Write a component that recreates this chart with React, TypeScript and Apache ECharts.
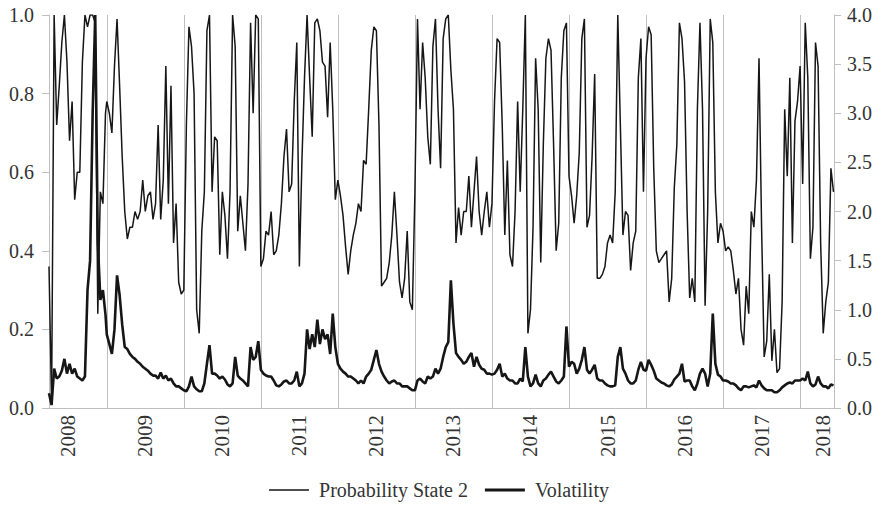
import React, { useEffect, useRef } from "react";
import * as echarts from "echarts";

const STEP = 1 / 30;
const X_MIN = 2008.25;
const X_MAX = 2018.44;

const YEAR_LINES = [2009, 2010, 2011, 2012, 2013, 2014, 2015, 2016, 2017, 2018];
const YEAR_LABEL_POS = [2008.5, 2009.5, 2010.5, 2011.5, 2012.5, 2013.5, 2014.5, 2015.5, 2016.5, 2017.5, 2018.3];

const prob2008 = [0.36, 0.01, 1.0, 0.72, 0.82, 0.93, 1.0, 0.88, 0.68, 0.78, 0.53, 0.6, 0.6, 0.88, 1.0, 0.97, 1.0, 1.0, 0.98, 0.24, 0.55, 0.52, 0.75];
const prob2009 = [0.78, 0.75, 0.7, 0.87, 0.99, 0.82, 0.64, 0.5, 0.43, 0.46, 0.46, 0.5, 0.48, 0.5, 0.58, 0.5, 0.54, 0.55, 0.48, 0.52, 0.72, 0.48, 0.58, 0.87, 0.52, 0.82, 0.42, 0.52, 0.32, 0.29];
const prob2010 = [0.3, 0.72, 0.97, 0.92, 0.8, 0.25, 0.19, 0.45, 0.55, 0.96, 1.0, 0.55, 0.69, 0.68, 0.39, 0.55, 0.49, 0.38, 0.55, 1.0, 0.92, 0.45, 0.54, 0.47, 0.4, 0.57, 0.98, 0.75, 1.0, 0.99];
const prob2011 = [0.36, 0.38, 0.45, 0.44, 0.5, 0.39, 0.4, 0.44, 0.52, 0.64, 0.71, 0.55, 0.57, 0.78, 0.93, 0.36, 0.63, 0.84, 1.0, 0.84, 0.69, 0.98, 0.99, 0.96, 0.88, 0.87, 0.74, 0.93, 0.76, 0.53];
const prob2012 = [0.58, 0.54, 0.49, 0.41, 0.34, 0.4, 0.44, 0.47, 0.52, 0.5, 0.63, 0.62, 0.76, 0.91, 0.97, 0.96, 0.72, 0.31, 0.32, 0.33, 0.37, 0.44, 0.55, 0.44, 0.32, 0.28, 0.33, 0.45, 0.27, 0.25];
const prob2013 = [0.55, 0.99, 0.76, 0.93, 0.84, 0.69, 0.62, 0.92, 0.99, 0.76, 0.61, 0.94, 0.99, 1.0, 0.86, 0.76, 0.42, 0.51, 0.44, 0.5, 0.5, 0.59, 0.46, 0.55, 0.64, 0.5, 0.44, 0.5, 0.55, 0.46];
const prob2014 = [0.52, 0.78, 0.94, 0.93, 0.72, 0.44, 0.63, 0.39, 0.36, 0.5, 0.78, 0.55, 0.76, 1.0, 0.19, 0.25, 0.46, 0.89, 0.76, 0.37, 0.67, 0.89, 0.94, 0.91, 0.67, 0.4, 0.47, 0.84, 0.96, 0.98];
const prob2015 = [0.59, 0.54, 0.47, 0.54, 0.65, 0.94, 0.99, 0.46, 0.49, 0.64, 0.85, 0.33, 0.33, 0.34, 0.36, 0.42, 0.44, 0.42, 0.55, 1.0, 0.72, 0.44, 0.5, 0.49, 0.35, 0.42, 0.45, 0.84, 0.94, 0.55];
const prob2016 = [0.89, 0.97, 0.95, 0.61, 0.4, 0.37, 0.38, 0.39, 0.4, 0.27, 0.33, 0.56, 0.67, 0.98, 0.94, 0.83, 0.5, 0.28, 0.33, 0.27, 0.76, 0.98, 0.76, 0.26, 0.5, 0.99, 0.93, 0.55, 0.42, 0.47];
const prob2017 = [0.45, 0.4, 0.41, 0.4, 0.35, 0.29, 0.33, 0.2, 0.16, 0.31, 0.24, 0.5, 0.46, 0.58, 0.89, 0.46, 0.13, 0.17, 0.34, 0.12, 0.2, 0.09, 0.1, 0.27, 0.76, 0.59, 0.84, 0.42, 0.73, 0.78];
const prob2018 = [0.87, 0.57, 0.98, 0.84, 0.38, 0.46, 0.93, 0.87, 0.42, 0.19, 0.27, 0.32, 0.61, 0.55];

const vol2008 = [0.15, 0.03, 0.4, 0.3, 0.32, 0.38, 0.5, 0.35, 0.45, 0.35, 0.4, 0.32, 0.3, 0.28, 0.32, 1.2, 1.5, 3.0, 4.0, 1.7, 1.1, 1.2, 0.95];
const vol2009 = [0.75, 0.65, 0.55, 0.8, 1.35, 1.15, 0.85, 0.62, 0.6, 0.55, 0.52, 0.5, 0.47, 0.45, 0.42, 0.4, 0.38, 0.35, 0.33, 0.33, 0.3, 0.36, 0.3, 0.33, 0.28, 0.3, 0.25, 0.22, 0.22, 0.2];
const vol2010 = [0.18, 0.17, 0.22, 0.32, 0.22, 0.19, 0.17, 0.17, 0.25, 0.45, 0.64, 0.35, 0.35, 0.33, 0.3, 0.32, 0.29, 0.24, 0.22, 0.25, 0.52, 0.33, 0.3, 0.28, 0.25, 0.22, 0.62, 0.49, 0.52, 0.68];
const vol2011 = [0.39, 0.35, 0.33, 0.32, 0.32, 0.28, 0.23, 0.22, 0.24, 0.27, 0.28, 0.25, 0.25, 0.28, 0.37, 0.22, 0.25, 0.35, 0.8, 0.6, 0.75, 0.62, 0.9, 0.65, 0.8, 0.7, 0.75, 0.55, 0.96, 0.62];
const vol2012 = [0.45, 0.4, 0.37, 0.35, 0.32, 0.32, 0.3, 0.28, 0.25, 0.28, 0.25, 0.32, 0.35, 0.39, 0.49, 0.59, 0.45, 0.37, 0.32, 0.28, 0.25, 0.27, 0.28, 0.25, 0.25, 0.22, 0.22, 0.22, 0.2, 0.18];
const vol2013 = [0.18, 0.28, 0.3, 0.27, 0.25, 0.32, 0.3, 0.32, 0.4, 0.35, 0.4, 0.52, 0.62, 0.67, 1.3, 0.86, 0.56, 0.52, 0.49, 0.45, 0.47, 0.52, 0.56, 0.42, 0.52, 0.44, 0.4, 0.39, 0.35, 0.35];
const vol2014 = [0.34, 0.35, 0.39, 0.45, 0.32, 0.35, 0.3, 0.28, 0.28, 0.25, 0.25, 0.3, 0.27, 0.62, 0.32, 0.22, 0.25, 0.34, 0.25, 0.22, 0.28, 0.3, 0.34, 0.37, 0.32, 0.27, 0.25, 0.28, 0.32, 0.83];
const vol2015 = [0.42, 0.47, 0.45, 0.35, 0.4, 0.49, 0.62, 0.39, 0.35, 0.39, 0.44, 0.3, 0.28, 0.28, 0.25, 0.23, 0.22, 0.22, 0.23, 0.52, 0.62, 0.4, 0.35, 0.28, 0.25, 0.25, 0.28, 0.39, 0.47, 0.39];
const vol2016 = [0.38, 0.49, 0.44, 0.38, 0.3, 0.28, 0.26, 0.25, 0.23, 0.22, 0.24, 0.29, 0.32, 0.35, 0.45, 0.27, 0.28, 0.28, 0.22, 0.18, 0.25, 0.35, 0.4, 0.35, 0.22, 0.35, 0.96, 0.45, 0.34, 0.32];
const vol2017 = [0.28, 0.28, 0.27, 0.25, 0.25, 0.23, 0.2, 0.18, 0.22, 0.22, 0.21, 0.22, 0.23, 0.21, 0.28, 0.23, 0.2, 0.18, 0.18, 0.18, 0.16, 0.16, 0.18, 0.21, 0.23, 0.25, 0.26, 0.25, 0.28, 0.28];
const vol2018 = [0.28, 0.3, 0.28, 0.37, 0.25, 0.22, 0.24, 0.32, 0.25, 0.22, 0.22, 0.2, 0.24, 0.23];

const probByYear: [number, number[]][] = [
  [2008.25, prob2008], [2009, prob2009], [2010, prob2010], [2011, prob2011], [2012, prob2012], [2013, prob2013],
  [2014, prob2014], [2015, prob2015], [2016, prob2016], [2017, prob2017], [2018, prob2018],
];
const volByYear: [number, number[]][] = [
  [2008.25, vol2008], [2009, vol2009], [2010, vol2010], [2011, vol2011], [2012, vol2012], [2013, vol2013],
  [2014, vol2014], [2015, vol2015], [2016, vol2016], [2017, vol2017], [2018, vol2018],
];

const toPoints = (blocks: [number, number[]][]) =>
  blocks.flatMap(([start, vals]) => vals.map((v, i) => [start + i * STEP, v]));

const CORNERS = "M0,0 L0.01,0 L0.01,0.01 Z M40,14 L39.99,14 L39.99,13.99 Z ";
const THIN_ICON = "path://" + CORNERS + "M0,6.3 L40,6.3 L40,7.7 L0,7.7 Z";
const THICK_ICON = "path://" + CORNERS + "M0,5.6 L40,5.6 L40,8.4 L0,8.4 Z";

const FONT = "Liberation Serif";
const TEXT = "#333333";
const AXIS = "#bfbfbf";
const INK = "#161616";

export default function App() {
  const ref = useRef<HTMLDivElement>(null);
  useEffect(() => {
    if (!ref.current) return;
    const chart = echarts.init(ref.current, undefined, { renderer: "svg" });
    chart.setOption({
      animation: false,
      backgroundColor: "#ffffff",
      textStyle: { fontFamily: FONT },
      grid: { left: 49, right: 44, top: 15, bottom: 106, containLabel: false },
      legend: {
        bottom: 9,
        left: "center",
        data: [
          { name: "Probability State 2", icon: THIN_ICON },
          { name: "Volatility", icon: THICK_ICON },
        ],
        itemWidth: 40,
        itemHeight: 14,
        itemGap: 17,
        textStyle: { fontFamily: FONT, fontSize: 20, color: TEXT, padding: [0, 0, 0, 5] },
      },
      xAxis: {
        type: "value",
        min: X_MIN,
        max: X_MAX,
        axisLine: { show: true, lineStyle: { color: AXIS, width: 1 } },
        axisTick: { show: false },
        splitLine: { show: false },
        axisLabel: {
          customValues: YEAR_LABEL_POS,
          rotate: 90,
          margin: 7,
          formatter: (v: number) => String(Math.floor(v)),
          fontFamily: FONT,
          fontSize: 21,
          color: TEXT,
        },
      },
      yAxis: [
        {
          type: "value",
          min: 0,
          max: 1,
          interval: 0.2,
          position: "left",
          axisLine: { show: true, lineStyle: { color: AXIS } },
          axisTick: { show: true, length: 7, lineStyle: { color: AXIS } },
          splitLine: { show: false },
          axisLabel: {
            margin: 15,
            formatter: (v: number) => v.toFixed(1),
            fontFamily: FONT,
            fontSize: 20,
            color: TEXT,
          },
        },
        {
          type: "value",
          min: 0,
          max: 4,
          interval: 0.5,
          position: "right",
          axisLine: { show: true, lineStyle: { color: AXIS } },
          axisTick: { show: true, length: 7, lineStyle: { color: AXIS } },
          splitLine: { show: false },
          axisLabel: {
            margin: 13,
            formatter: (v: number) => v.toFixed(1),
            fontFamily: FONT,
            fontSize: 20,
            color: TEXT,
          },
        },
      ],
      series: [
        {
          name: "yearGrid",
          type: "line",
          data: [],
          silent: true,
          z: 1,
          markLine: {
            silent: true,
            symbol: ["none", "none"],
            label: { show: false },
            z: 1,
            lineStyle: { color: AXIS, width: 1, type: "solid" },
            emphasis: { disabled: true },
            data: YEAR_LINES.map((y) => ({ xAxis: y })),
          },
        },
        {
          name: "Probability State 2",
          type: "line",
          yAxisIndex: 0,
          data: toPoints(probByYear),
          showSymbol: false,
          symbol: "none",
          z: 3,
          lineStyle: { color: INK, width: 1.5 },
          itemStyle: { color: INK },
        },
        {
          name: "Volatility",
          type: "line",
          yAxisIndex: 1,
          data: toPoints(volByYear),
          showSymbol: false,
          symbol: "none",
          z: 4,
          lineStyle: { color: INK, width: 2.6 },
          itemStyle: { color: INK },
        },
      ],
    });
    return () => chart.dispose();
  }, []);
  return <div ref={ref} style={{ position: "fixed", left: 0, top: 0, width: 878, height: 514, background: "#fff" }} />;
}
